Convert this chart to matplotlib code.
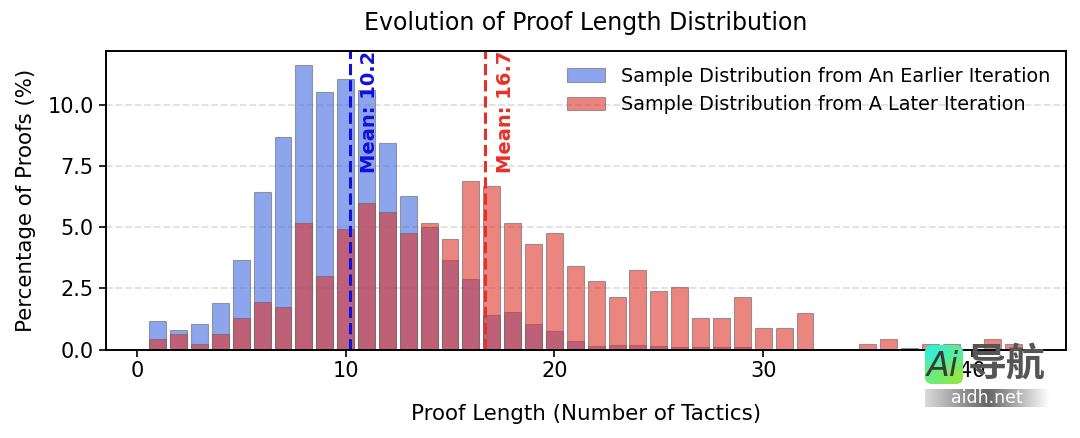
import numpy as np
import matplotlib
matplotlib.use("Agg")
import matplotlib.pyplot as plt
from matplotlib.patches import FancyBboxPatch

# Comprimento da prova (numero de taticas)
comprimentos = list(range(1, 43))

# Valores (%)
anterior = [1.18, 0.79, 1.03, 1.92, 3.65, 6.45, 8.69, 11.6, 10.5, 11.04, 10.6, 8.43, 6.26, 5.0, 3.65, 2.86, 1.43, 1.52, 1.03, 0.75,
            0.34, 0.15, 0.2, 0.2, 0.15, 0.1, 0.1, 0.1, 0.1, 0, 0, 0, 0, 0, 0, 0, 0.05, 0, 0, 0, 0, 0]
posterior = [0.42, 0.65, 0.22, 0.65, 1.29, 1.93, 1.72, 5.15, 3.0, 4.94, 6.0, 5.6, 4.74, 5.15, 4.5, 6.88, 6.66, 5.15, 4.29, 4.74,
             3.43, 2.79, 2.15, 3.23, 2.38, 2.57, 1.29, 1.29, 2.15, 0.86, 0.86, 1.51, 0, 0, 0.21, 0.43, 0.03, 0.21, 0.21, 0, 0.43, 0.21]

media_anterior = 10.2
media_posterior = 16.7

fig, ax = plt.subplots(figsize=(10.8, 4.38), dpi=100)

ax.bar(comprimentos, anterior, width=0.81, color="#4169e1", alpha=0.6, edgecolor="#666666", linewidth=0.8,
       label="Sample Distribution from An Earlier Iteration")
ax.bar(comprimentos, posterior, width=0.81, color="#df342b", alpha=0.6, edgecolor="#666666", linewidth=0.8,
       label="Sample Distribution from A Later Iteration")

# Linhas da media
ax.axvline(media_anterior, color="#0f0fe0", linestyle="--", linewidth=2.2)
ax.axvline(media_posterior - 0.04, color="#e8302a", linestyle="--", linewidth=2.2)
ax.text(media_anterior + 0.48, 7.2, "Mean: 10.2", color="#0f0fe0", rotation=90, fontsize=14, fontweight="bold", va="bottom", ha="left")
ax.text(media_posterior + 0.48, 7.2, "Mean: 16.7", color="#e8302a", rotation=90, fontsize=14, fontweight="bold", va="bottom", ha="left")

ax.set_xlim(-1.5, 44.5)
ax.set_ylim(0, 12.19)
ax.set_xticks([0, 10, 20, 30, 40])
ax.set_yticks([0, 2.5, 5, 7.5, 10])
ax.set_yticklabels(["0.0", "2.5", "5.0", "7.5", "10.0"])
ax.tick_params(labelsize=15, length=5, width=1.2)
ax.set_xlabel("Proof Length (Number of Tactics)", fontsize=15.4, labelpad=16)
ax.set_ylabel("Percentage of Proofs (%)", fontsize=15.4, labelpad=8)
ax.set_title("Evolution of Proof Length Distribution", fontsize=17, pad=15)
ax.grid(axis="y", linestyle="--", alpha=0.4, linewidth=1.3)
ax.set_axisbelow(True)
for lado in ax.spines.values():
    lado.set_linewidth(1.4)
ax.legend(loc="upper right", fontsize=13.85, frameon=False, borderaxespad=0.42, labelspacing=0.5)

fig.subplots_adjust(left=0.0977, right=0.987, top=0.8836, bottom=0.202)

# Logotipo sobreposto no canto inferior direito
logo = fig.add_axes([0, 0, 1, 1])
logo.axis("off")
verde = np.array([[0.0, 0.35], [0.65, 1.0]])
caixa = FancyBboxPatch((925, 345), 38, 39, boxstyle="round,pad=0,rounding_size=7", mutation_scale=1, facecolor="none", edgecolor="none",
                       transform=logo.transData)
logo.add_patch(caixa)
fundo = logo.imshow(verde, extent=(925, 963, 384, 345), cmap=matplotlib.colors.LinearSegmentedColormap.from_list("logo", ["#35f0d0", "#8ee84a"]),
                    aspect="auto", interpolation="bilinear", zorder=1)
fundo.set_clip_path(caixa)
logo.text(943, 366, "Ai", fontsize=24, style="italic", color="#3a3a3a", ha="center", va="center", zorder=2)
logo.text(1007, 365, "导航", fontsize=28, fontweight="bold", color="#555555", ha="center", va="center", family=["Noto Sans CJK SC", "DejaVu Sans"], zorder=2)
faixa = np.concatenate([np.linspace(0.85, 0.4, 50), np.linspace(0.4, 1, 50)]).reshape(1, -1)
logo.imshow(faixa, extent=(925, 1050, 407, 389), cmap="gray", vmin=0, vmax=1, aspect="auto", zorder=1)
logo.set_xlim(0, 1080)
logo.set_ylim(438, 0)
logo.text(987, 398, "aidh.net", fontsize=12.5, color="white", ha="center", va="center", zorder=2)

fig.savefig("out.png", dpi=100)
